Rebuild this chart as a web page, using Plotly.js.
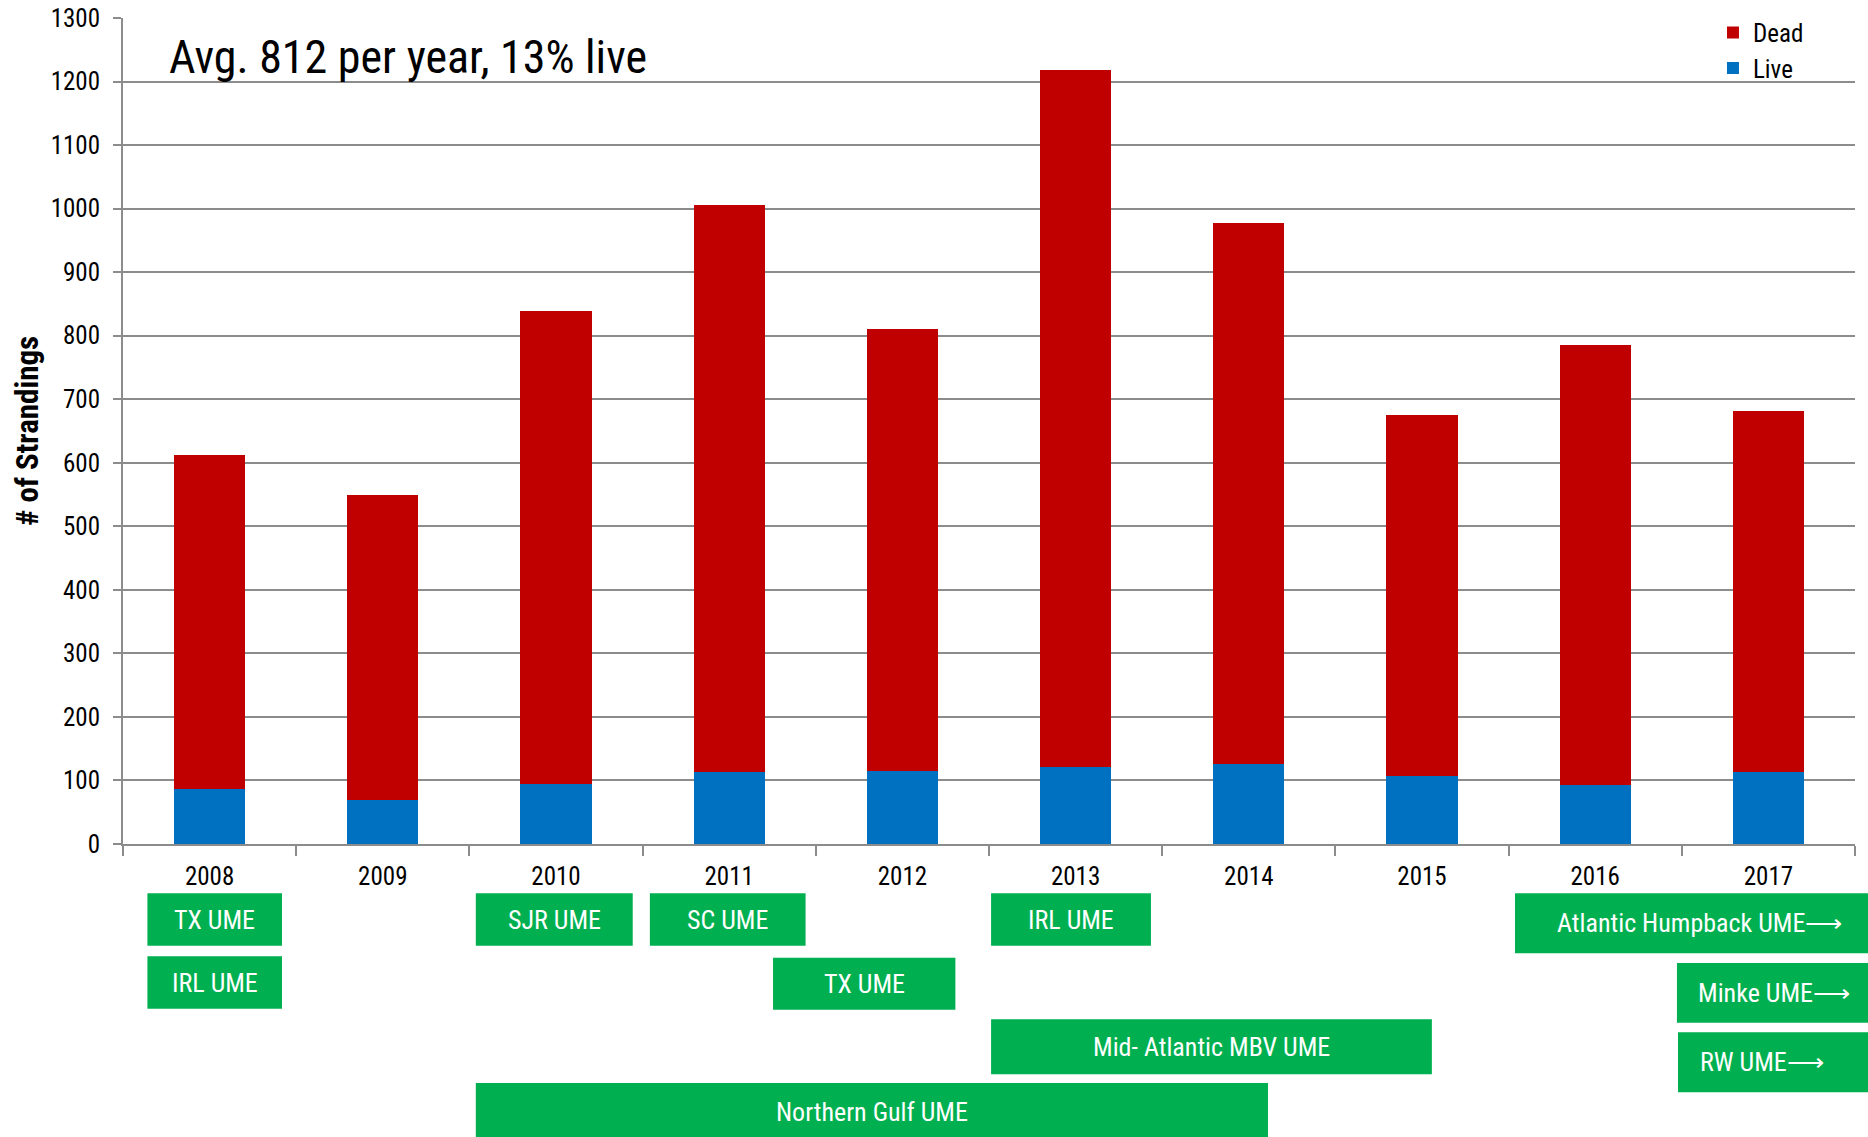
<!DOCTYPE html>
<html>
<head>
<meta charset="utf-8">
<script src="https://cdn.plot.ly/plotly-3.0.1.min.js"></script>
<style>
  html, body { margin: 0; padding: 0; background: #ffffff; }
  #chart { width: 1868px; height: 1137px; }
</style>
</head>
<body>
<div id="chart"></div>
<script>
// ---- data ----
const years = ['2008', '2009', '2010', '2011', '2012', '2013', '2014', '2015', '2016', '2017'];
const live = [86, 70, 95, 113, 115, 121, 126, 107, 93, 114];
const dead = [526, 480, 744, 893, 696, 1097, 851, 568, 693, 567];
const seriesNames = ['Dead', 'Live'];
const yTicks = [0, 100, 200, 300, 400, 500, 600, 700, 800, 900, 1000, 1100, 1200, 1300];
const summaryText = 'Avg. 812 per year, 13% live';
const yTitle = '# of Strandings';
const umeLabels = ['TX UME', 'IRL UME', 'SJR UME', 'SC UME', 'TX UME', 'IRL UME',
  'Mid- Atlantic MBV UME', 'Northern Gulf UME', 'Atlantic Humpback UME⟶', 'Minke UME⟶', 'RW UME⟶'];

// ---- layout (box geometry in paper coordinates, one per UME label) ----
const boxGeom = [
  {x0: 0.0141, x1: 0.0918, y0: -0.1232, y1: -0.0597},
  {x0: 0.0141, x1: 0.0918, y0: -0.1995, y1: -0.1360},
  {x0: 0.2037, x1: 0.2943, y0: -0.1232, y1: -0.0597},
  {x0: 0.3042, x1: 0.3941, y0: -0.1232, y1: -0.0597},
  {x0: 0.3753, x1: 0.4806, y0: -0.2007, y1: -0.1377},
  {x0: 0.5012, x1: 0.5935, y0: -0.1232, y1: -0.0597},
  {x0: 0.5012, x1: 0.7557, y0: -0.2789, y1: -0.2123},
  {x0: 0.2037, x1: 0.6611, y0: -0.3600, y1: -0.2894},
  {x0: 0.8037, x1: 1.0100, y0: -0.1324, y1: -0.0597, tx: 0.9100},
  {x0: 0.8972, x1: 1.0100, y0: -0.2164, y1: -0.1441, tx: 0.9530},
  {x0: 0.8978, x1: 1.0100, y0: -0.3004, y1: -0.2280, tx: 0.9465}
];

const FONT = "'Roboto Condensed', 'Liberation Sans Narrow', 'Arial Narrow', 'Liberation Sans', sans-serif";
const GREEN = '#00B050';
const GRID = '#8c8c8c';

const traces = [
  {
    type: 'bar', name: seriesNames[1], x: years, y: live,
    marker: {color: '#0070C0', line: {width: 0}}, hoverinfo: 'x+y+name'
  },
  {
    type: 'bar', name: seriesNames[0], x: years, y: dead,
    marker: {color: '#C00000', line: {width: 0}}, hoverinfo: 'x+y+name'
  }
];

const shapes = boxGeom.map(b => ({
  type: 'rect', xref: 'paper', yref: 'paper',
  x0: b.x0, x1: b.x1, y0: b.y0, y1: b.y1,
  fillcolor: GREEN, line: {width: 0}, layer: 'above'
}));

const annotations = boxGeom.map((b, i) => ({
  xref: 'paper', yref: 'paper',
  x: (b.tx !== undefined ? b.tx : (b.x0 + b.x1) / 2),
  y: (b.y0 + b.y1) / 2,
  xanchor: 'center', yanchor: 'middle',
  text: umeLabels[i], showarrow: false,
  font: {family: FONT, size: 26, color: '#ffffff'}
}));

annotations.push({
  xref: 'paper', yref: 'paper', x: 0.0256, y: 0.953,
  xanchor: 'left', yanchor: 'middle', showarrow: false,
  text: summaryText,
  font: {family: FONT, size: 46, color: '#000000'}
});

const layout = {
  width: 1868, height: 1137,
  paper_bgcolor: '#ffffff', plot_bgcolor: '#ffffff',
  margin: {l: 123, r: 13, t: 18, b: 293, autoexpand: false},
  font: {family: FONT, size: 24, color: '#000000'},
  barmode: 'stack',
  bargap: 0.59,
  showlegend: true,
  legend: {
    x: 0.918, y: 1.01, xanchor: 'left', yanchor: 'top',
    traceorder: 'reversed', bgcolor: 'rgba(0,0,0,0)',
    font: {family: FONT, size: 25, color: '#000000'},
    itemwidth: 30, tracegroupgap: 0
  },
  xaxis: {
    type: 'category', tickson: 'boundaries',
    ticks: 'outside', ticklen: 10, tickwidth: 2, tickcolor: GRID,
    showline: true, linecolor: GRID, linewidth: 2,
    showgrid: false, zeroline: false,
    tickfont: {family: FONT, size: 25, color: '#000000'},
    ticklabelstandoff: 9,
    automargin: false
  },
  yaxis: {
    range: [0, 1300], tickmode: 'array', tickvals: yTicks,
    ticks: 'outside', ticklen: 8, tickwidth: 2, tickcolor: GRID,
    showline: true, linecolor: GRID, linewidth: 2,
    showgrid: true, gridcolor: GRID, gridwidth: 2,
    zeroline: false,
    tickfont: {family: FONT, size: 25, color: '#000000'},
    ticklabelstandoff: 8,
    title: {text: yTitle, font: {family: FONT, size: 31, color: '#000000', weight: 'bold'}, standoff: 3},
    automargin: false
  },
  shapes: shapes,
  annotations: annotations
};

Plotly.newPlot('chart', traces, layout, {displayModeBar: false, staticPlot: false});
</script>
</body>
</html>
